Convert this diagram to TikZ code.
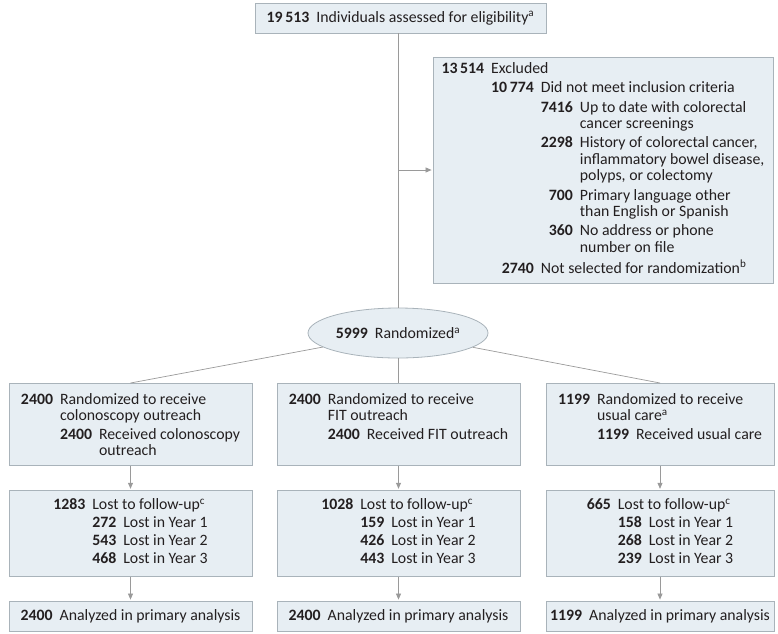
\documentclass[tikz,border=0pt]{standalone}
\usepackage{fontspec}
\setmainfont{Carlito}
\usepackage{xcolor}
\usepackage{tikz}
\usetikzlibrary{positioning,shapes.geometric,arrows.meta}

\definecolor{boxfill}{HTML}{E7EEF3}
\definecolor{boxline}{HTML}{A9B3BA}
\definecolor{connline}{HTML}{9A9A9A}
\definecolor{inktext}{HTML}{231F20}

\begin{document}
\begin{tikzpicture}[x=1pt, y=-1pt, node distance = 24pt]
            \setlength{\tabcolsep}{3.5pt}
            \tikzstyle{box} = [rectangle, draw=boxline, fill=boxfill, line width=0.8pt, inner sep=0pt, text=inktext, font=\fontsize{15.8}{16.5}\selectfont]
            \tikzstyle{arm} = [box, text height=21pt, text depth=61pt]
            \tikzstyle{loss} = [box, minimum height=86pt]
            \tikzstyle{final} = [box, minimum height=30pt]
            \tikzstyle{conn} = [draw=connline, line width=0.7pt]
            \tikzstyle{flow} = [conn, -{Triangle[length=6pt, width=5pt]}, shorten >=1pt]
            \useasboundingbox (0,0) rectangle (778,633);

            \node [box, minimum width=291pt, minimum height=30pt] (elig) at (400.5,18)
                {\textbf{19\,513}\hspace{7pt}Individuals assessed for eligibility\textsuperscript{a}};

            \node [box, minimum width=340pt, minimum height=226pt] (excl) at (603,170) {%
                \begin{tabular}{@{}rrrl@{}}
                \textbf{13\,514} & \multicolumn{3}{l@{}}{Excluded}\\[2.8pt]
                 & \textbf{10\,774} & \multicolumn{2}{l@{}}{Did not meet inclusion criteria}\\[2.8pt]
                 & & \textbf{7416} & Up to date with colorectal\\
                 & & & cancer screenings\\[2.8pt]
                 & & \textbf{2298} & History of colorectal cancer,\\
                 & & & inflammatory bowel disease,\\
                 & & & polyps, or colectomy\\[2.8pt]
                 & & \textbf{700} & Primary language other\\
                 & & & than English or Spanish\\[2.8pt]
                 & & \textbf{360} & No address or phone\\
                 & & & number on file\\[2.8pt]
                 & \textbf{2740} & \multicolumn{2}{l@{}}{Not selected for randomization\textsuperscript{b}}
                \end{tabular}};

            \node [box, ellipse, minimum width=180pt, minimum height=50pt] (rand) at (398,333)
                {\textbf{5999}\hspace{7pt}Randomized\textsuperscript{a}};

            % arms
            \node [arm, minimum width=243pt, anchor=north] (armA) at (130.5,383) {%
                \begin{tabular}[t]{@{}rrl@{}}
                \textbf{2400} & \multicolumn{2}{l@{}}{Randomized to receive}\\
                 & \multicolumn{2}{l@{}}{colonoscopy outreach}\\[1.8pt]
                 & \textbf{2400} & Received colonoscopy\\
                 & & outreach
                \end{tabular}};
            \node [arm, minimum width=243pt, anchor=north] (armB) at (398.5,383) {%
                \begin{tabular}[t]{@{}rrl@{}}
                \textbf{2400} & \multicolumn{2}{l@{}}{Randomized to receive}\\
                 & \multicolumn{2}{l@{}}{FIT outreach}\\[1.8pt]
                 & \textbf{2400} & Received FIT outreach
                \end{tabular}};
            \node [arm, minimum width=228pt, anchor=north] (armC) at (660,383) {%
                \begin{tabular}[t]{@{}rrl@{}}
                \textbf{1199} & \multicolumn{2}{l@{}}{Randomized to receive}\\
                 & \multicolumn{2}{l@{}}{usual care\textsuperscript{a}}\\[1.8pt]
                 & \textbf{1199} & Received usual care
                \end{tabular}};

            % lost to follow-up
            \node [loss, minimum width=243pt, below = of armA] (lossA) {%
                \begin{tabular}{@{}rrl@{}}
                \textbf{1283} & \multicolumn{2}{l@{}}{Lost to follow-up\textsuperscript{c}}\\[1.5pt]
                 & \textbf{272} & Lost in Year 1\\[1.5pt]
                 & \textbf{543} & Lost in Year 2\\[1.5pt]
                 & \textbf{468} & Lost in Year 3
                \end{tabular}};
            \node [loss, minimum width=243pt, below = of armB] (lossB) {%
                \begin{tabular}{@{}rrl@{}}
                \textbf{1028} & \multicolumn{2}{l@{}}{Lost to follow-up\textsuperscript{c}}\\[1.5pt]
                 & \textbf{159} & Lost in Year 1\\[1.5pt]
                 & \textbf{426} & Lost in Year 2\\[1.5pt]
                 & \textbf{443} & Lost in Year 3
                \end{tabular}};
            \node [loss, minimum width=228pt, below = of armC] (lossC) {%
                \begin{tabular}{@{}rrl@{}}
                \textbf{665} & \multicolumn{2}{l@{}}{Lost to follow-up\textsuperscript{c}}\\[1.5pt]
                 & \textbf{158} & Lost in Year 1\\[1.5pt]
                 & \textbf{268} & Lost in Year 2\\[1.5pt]
                 & \textbf{239} & Lost in Year 3
                \end{tabular}};

            % analyzed
            \node [final, minimum width=243pt, below = of lossA] (anaA) {\textbf{2400}\hspace{7pt}Analyzed in primary analysis};
            \node [final, minimum width=243pt, below = of lossB] (anaB) {\textbf{2400}\hspace{7pt}Analyzed in primary analysis};
            \node [final, minimum width=228pt, below = of lossC] (anaC) {\textbf{1199}\hspace{7pt}Analyzed in primary analysis};

            \coordinate (split) at (rand.north |- excl.west);
            \draw [conn] (rand.north |- elig.south) to (rand.north);
            \draw [flow] (split) to (excl.west);

            \draw [conn] (rand) to (armA.north);
            \draw [conn] (rand.south) to (rand.south |- armB.north);
            \draw [conn] (rand) to (armC.north);

            \draw [flow] (armA) to (lossA);
            \draw [flow] (armB) to (lossB);
            \draw [flow] (armC) to (lossC);
            \draw [flow] (lossA) to (anaA);
            \draw [flow] (lossB) to (anaB);
            \draw [flow] (lossC) to (anaC);
        \end{tikzpicture}
\end{document}
